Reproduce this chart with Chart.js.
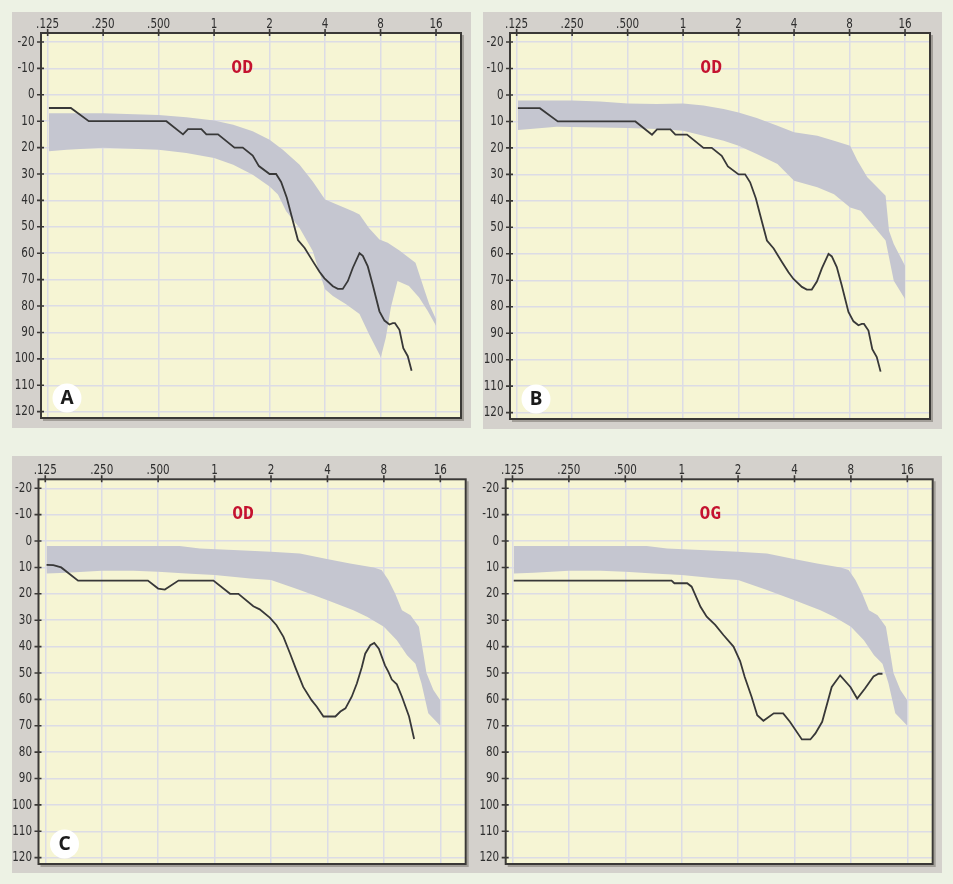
<!DOCTYPE html>
<html>
<head>
<meta charset="utf-8">
<script src="https://cdn.jsdelivr.net/npm/chart.js@4.4.1/dist/chart.umd.min.js"></script>
<style>
    html, body { margin: 0; padding: 0; background: #edf2e4; }
    body { width: 953px; height: 884px; position: relative; overflow: hidden; }
    .panel { position: absolute; background: #d4d1cc; }
    .panel canvas { display: block; }
</style>
</head>
<body>
<div class="panel" id="panel-0"><canvas id="chart-0"></canvas></div>
<div class="panel" id="panel-1"><canvas id="chart-1"></canvas></div>
<div class="panel" id="panel-2"><canvas id="chart-2"></canvas></div>
<div class="panel" id="panel-3"><canvas id="chart-3"></canvas></div>
<script>
// axis ticks
const freqTicks = [0.125, 0.25, 0.5, 1, 2, 4, 8, 16];
const freqLabels = ['.125', '.250', '.500', '1', '2', '4', '8', '16'];
const levelTicks = [-20, -10, 0, 10, 20, 30, 40, 50, 60, 70, 80, 90, 100, 110, 120];

// patient threshold used in A and B (kHz / dB)
const abFreq = [0.127, 0.167, 0.209, 0.551, 0.678, 0.722, 0.853, 0.908, 1.05, 1.29, 1.43, 1.62, 1.75, 2.00, 2.17, 2.31, 2.48, 2.68, 2.85, 3.10, 3.43, 3.73, 3.97, 4.41, 4.69, 4.99, 5.32, 5.66, 6.15, 6.41, 6.82, 7.26, 7.89, 8.40, 8.94, 9.32, 9.58, 10.13, 10.63, 11.24, 11.79];
const abLevel = [5, 5, 10, 10, 15, 13, 13, 15, 15, 20, 20, 23, 27, 30, 30, 33, 39, 48, 55, 58, 63, 67, 69.5, 72.5, 73.5, 73.5, 70.5, 65.5, 60, 61, 65, 72, 82, 85.5, 87, 86.5, 86.5, 89, 96, 99, 104.5];

// panel C threshold
const cFreq = [0.127, 0.138, 0.152, 0.187, 0.243, 0.441, 0.5, 0.543, 0.642, 0.986, 1.21, 1.34, 1.61, 1.74, 1.97, 2.14, 2.33, 2.53, 2.70, 2.97, 3.29, 3.51, 3.81, 4.41, 4.69, 4.99, 5.39, 5.74, 6.10, 6.36, 6.77, 7.11, 7.52, 8.11, 8.46, 8.82, 9.38, 9.99, 10.9, 11.6];
const cLevel = [9, 9.1, 10, 15, 15, 15, 18, 18.4, 15, 15, 20, 20, 24.7, 25.9, 29, 31.9, 36.3, 42.7, 48, 55.3, 60.3, 62.8, 66.5, 66.5, 64.6, 63.4, 59, 54, 47.8, 42.7, 39.5, 38.6, 40.8, 47.1, 49.6, 52.5, 54.3, 59, 66.5, 75];

// panel D threshold
const dFreq = [0.127, 0.883, 0.914, 1.07, 1.13, 1.26, 1.36, 1.51, 1.67, 1.89, 2.05, 2.17, 2.36, 2.53, 2.73, 3.10, 3.48, 3.78, 4.38, 4.86, 5.17, 5.62, 6.32, 7.01, 7.95, 8.64, 9.51, 10.56, 11.24, 11.79];
const dLevel = [15, 15, 16, 16, 17.3, 24.9, 28.7, 31.8, 35.6, 40, 45.5, 51.5, 59, 66, 68.1, 65.3, 65.3, 68.5, 75.2, 75.2, 72.9, 68.5, 55.3, 50.9, 55.3, 59.7, 55.9, 51.3, 50.3, 50.3];

// norm band A
const aHiFreq = [0.127, 0.25, 0.5, 0.707, 1.0, 1.27, 1.62, 2.0, 2.36, 2.91, 3.43, 4.0, 5.70, 6.15, 6.92, 7.89, 8.75, 10.13, 12.38, 13.8, 14.7, 16];
const aHiLevel = [7, 7, 7.7, 8.5, 9.7, 11.3, 13.8, 17, 20.8, 26.5, 32.8, 39.7, 44.2, 45.3, 50.4, 54.8, 56, 59, 63.6, 73.6, 79.3, 85];
const aLoFreq = [0.127, 0.159, 0.25, 0.5, 0.707, 1.0, 1.27, 1.62, 2.0, 2.22, 2.46, 2.91, 3.43, 3.73, 4.0, 4.41, 5.20, 6.15, 6.92, 8.03, 8.55, 9.10, 9.89, 11.4, 12.95, 14.4, 16];
const aLoLevel = [21.4, 20.8, 20.1, 20.8, 22, 23.9, 26.5, 30.3, 34.7, 37.8, 44.1, 50.4, 59.2, 67.4, 73.6, 76.2, 79.3, 83, 90.6, 99.4, 91.9, 80.6, 70.5, 72.4, 76.8, 81.8, 87.5];

// norm band B
const bHiFreq = [0.127, 0.25, 0.354, 0.5, 0.722, 1.0, 1.29, 1.66, 2.0, 2.51, 3.25, 4.0, 5.35, 6.59, 8.06, 8.82, 9.99, 11.1, 12.55, 13.1, 13.9, 14.8, 16];
const bHiLevel = [2.1, 2.1, 2.5, 3.2, 3.4, 3.2, 4, 5.3, 6.6, 8.7, 11.6, 14.1, 15.4, 17.3, 19.2, 24.8, 31.1, 34.3, 38.1, 51.3, 56.3, 60, 64.5];
const bLoFreq = [0.127, 0.148, 0.206, 0.5, 0.722, 1.0, 1.29, 1.66, 2.0, 2.51, 3.25, 4.0, 5.35, 6.59, 8.06, 9.19, 12.55, 13.9, 16];
const bLoLevel = [13.2, 12.9, 12, 12.5, 12.9, 13.5, 15.4, 17.3, 19.2, 22.3, 26.1, 32.4, 34.9, 37.5, 42.5, 43.7, 55, 70.2, 77.1];

// norm band C / D
const cHiFreq = [0.127, 0.25, 0.651, 0.835, 1.26, 2.0, 2.85, 3.97, 5.28, 7.06, 7.78, 8.46, 9.19, 9.99, 11.1, 12.3, 13.0, 13.5, 14.7, 16];
const cHiLevel = [1.9, 1.9, 1.9, 2.8, 3.4, 4.1, 4.7, 6.8, 8.5, 10, 11, 14.8, 19.9, 26.2, 28.1, 32.5, 42.7, 50, 56.5, 60.3];
const cLoFreq = [0.127, 0.162, 0.25, 0.369, 0.5, 0.707, 1.0, 1.55, 2.0, 2.85, 4.0, 5.50, 6.50, 8.0, 9.38, 10.63, 11.79, 12.7, 13.8, 16];
const cLoLevel = [12.3, 12, 11.3, 11.3, 11.6, 12.3, 12.9, 14.2, 14.8, 18.6, 22.4, 26.2, 28.7, 32.5, 37.6, 43.3, 46.5, 54, 65.3, 70];

const panelTitles = ['OD', 'OD', 'OD', 'OG'];
const panelLetters = ['A', 'B', 'C', ''];

// where each panel sits on the page and where its plot area sits in it
const panelBoxes = [
    { left: 12, top: 12, w: 459, h: 416, pad: { l: 29, t: 21, r: 10, b: 10 } },
    { left: 483, top: 12, w: 459, h: 417, pad: { l: 27, t: 21, r: 12, b: 10 } },
    { left: 12, top: 456, w: 465, h: 417, pad: { l: 26.5, t: 23.3, r: 11.3, b: 9 } },
    { left: 477, top: 456, w: 465, h: 417, pad: { l: 28.7, t: 23.3, r: 9.3, b: 9 } }
];

const pts = (fs, ls) => fs.map((f, i) => ({ x: f, y: ls[i] }));

const panelData = [
    { hi: pts(aHiFreq, aHiLevel), lo: pts(aLoFreq, aLoLevel), line: pts(abFreq, abLevel) },
    { hi: pts(bHiFreq, bHiLevel), lo: pts(bLoFreq, bLoLevel), line: pts(abFreq, abLevel) },
    { hi: pts(cHiFreq, cHiLevel), lo: pts(cLoFreq, cLoLevel), line: pts(cFreq, cLevel) },
    { hi: pts(cHiFreq, cHiLevel), lo: pts(cLoFreq, cLoLevel), line: pts(dFreq, dLevel) }
];

const BAND = '#c5c6d0';
const INK = '#3a3836';
const LABEL_FONT = "14px 'DejaVu Sans', sans-serif";

// narrow, tall axis labels like the audiometer printout
function narrowText(ctx, text, x, y, align) {
    ctx.save();
    ctx.translate(x, y);
    ctx.scale(0.74, 1);
    ctx.textAlign = align;
    ctx.fillText(text, 0, 0);
    ctx.restore();
}

const panelDecor = {
    id: 'panelDecor',
    beforeDraw(chart) {
        const { ctx, chartArea: a } = chart;
        ctx.save();
        ctx.fillStyle = '#f6f5d4';
        ctx.fillRect(a.left, a.top, a.width, a.height);
        ctx.restore();
    },
    afterDraw(chart, args, opts) {
        const { ctx, chartArea: a, scales } = chart;
        ctx.save();

        // soft shadow on right / bottom
        ctx.strokeStyle = 'rgba(120,116,110,0.55)';
        ctx.lineWidth = 2;
        ctx.beginPath();
        ctx.moveTo(a.right + 2, a.top + 2);
        ctx.lineTo(a.right + 2, a.bottom + 2);
        ctx.lineTo(a.left + 2, a.bottom + 2);
        ctx.stroke();

        // frame
        ctx.strokeStyle = INK;
        ctx.lineWidth = 2;
        ctx.strokeRect(a.left, a.top, a.width, a.height);

        // tick marks crossing the axes
        ctx.lineWidth = 1.6;
        ctx.beginPath();
        freqTicks.forEach(f => {
            const x = scales.x.getPixelForValue(f);
            ctx.moveTo(x, a.top - 4);
            ctx.lineTo(x, a.top + 3);
        });
        levelTicks.forEach(v => {
            const y = scales.y.getPixelForValue(v);
            ctx.moveTo(a.left - 4, y);
            ctx.lineTo(a.left + 3, y);
        });
        ctx.stroke();

        // tick labels
        ctx.fillStyle = '#2e2e2e';
        ctx.font = LABEL_FONT;
        ctx.textBaseline = 'middle';
        freqTicks.forEach((f, i) => {
            narrowText(ctx, freqLabels[i], scales.x.getPixelForValue(f), a.top - 8.5, 'center');
        });
        levelTicks.forEach(v => {
            narrowText(ctx, String(v), a.left - 6.5, scales.y.getPixelForValue(v), 'right');
        });

        // ear label
        ctx.fillStyle = '#c4122f';
        ctx.font = "bold 18px 'DejaVu Sans Mono', monospace";
        ctx.textAlign = 'center';
        ctx.textBaseline = 'middle';
        ctx.fillText(opts.title, scales.x.getPixelForValue(1.42), scales.y.getPixelForValue(-10));

        // panel letter
        if (opts.letter) {
            const cx = a.left + 26, cy = a.bottom - 20;
            ctx.fillStyle = '#ffffff';
            ctx.beginPath();
            ctx.arc(cx, cy, 14.5, 0, Math.PI * 2);
            ctx.fill();
            ctx.fillStyle = '#1b1b1b';
            ctx.font = "bold 19px 'Noto Sans', sans-serif";
            ctx.fillText(opts.letter, cx, cy + 1);
        }
        ctx.restore();
    }
};

function buildPanel(i) {
    const box = panelBoxes[i];
    const panel = document.getElementById(`panel-${i}`);
    panel.style.left = box.left + 'px';
    panel.style.top = box.top + 'px';
    panel.style.width = box.w + 'px';
    panel.style.height = box.h + 'px';

    const canvas = document.getElementById(`chart-${i}`);
    canvas.width = box.w;
    canvas.height = box.h;

    const d = panelData[i];

    new Chart(canvas, {
        type: 'line',
        data: {
            datasets: [
                { data: d.hi, borderWidth: 0, pointRadius: 0, backgroundColor: BAND, fill: '+1', order: 2 },
                { data: d.lo, borderWidth: 0, pointRadius: 0, backgroundColor: BAND, fill: false, order: 2 },
                { data: d.line, borderColor: '#383838', borderWidth: 1.8, pointRadius: 0, fill: false, tension: 0, order: 0 }
            ]
        },
        options: {
            responsive: false,
            animation: false,
            layout: { padding: { left: 0, top: 0, right: box.pad.r, bottom: box.pad.b } },
            plugins: {
                legend: { display: false },
                tooltip: { enabled: false },
                filler: { drawTime: 'beforeDatasetsDraw' },
                panelDecor: { title: panelTitles[i], letter: panelLetters[i] }
            },
            scales: {
                x: {
                    type: 'logarithmic',
                    position: 'top',
                    min: 0.125 * Math.pow(2, -0.12),
                    max: 0.125 * Math.pow(2, 7.45),
                    afterBuildTicks: s => { s.ticks = freqTicks.map(v => ({ value: v })); },
                    afterFit: s => {
                        s.height = box.pad.t;
                        s.paddingLeft = 0; s.paddingRight = 0; s.paddingTop = 0; s.paddingBottom = 0;
                    },
                    grid: { color: '#dcdce5', lineWidth: 1.5, drawTicks: false },
                    border: { display: false },
                    ticks: { display: false, autoSkip: false }
                },
                y: {
                    type: 'linear',
                    reverse: true,
                    min: -23.4,
                    max: 122.4,
                    afterBuildTicks: s => { s.ticks = levelTicks.map(v => ({ value: v })); },
                    afterFit: s => {
                        s.width = box.pad.l;
                        s.paddingLeft = 0; s.paddingRight = 0; s.paddingTop = 0; s.paddingBottom = 0;
                    },
                    grid: { color: '#dcdce5', lineWidth: 1.5, drawTicks: false },
                    border: { display: false },
                    ticks: { display: false, autoSkip: false }
                }
            }
        },
        plugins: [panelDecor]
    });
}

[0, 1, 2, 3].forEach(buildPanel);
</script>
</body>
</html>
